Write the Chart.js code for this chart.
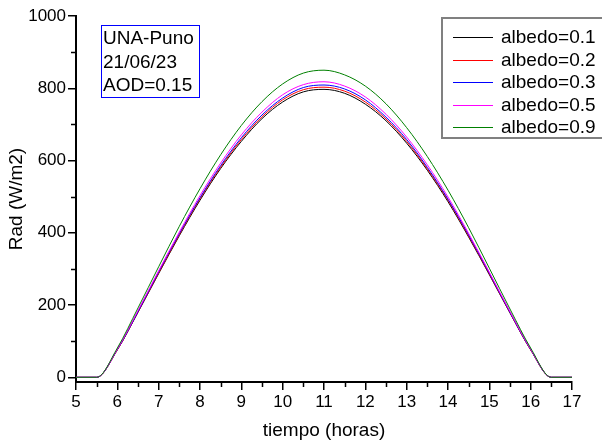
<!DOCTYPE html>
<html>
<head>
<meta charset="utf-8">
<script src="https://cdn.jsdelivr.net/npm/chart.js@4"></script>
<style>
  html, body { margin: 0; padding: 0; background: #fff; }
  #wrap { width: 602px; height: 443px; }
</style>
</head>
<body>
<div id="wrap"><canvas id="grafico"></canvas></div>
<script>
// horas del dia
const horas = [5, 5.5, 6, 6.5, 7, 7.5, 8, 8.5, 9, 9.5, 10, 10.5, 11, 11.5, 12, 12.5, 13, 13.5, 14, 14.5, 15, 15.5, 16, 16.5, 17];

// radiacion (W/m2) para cada albedo
const albedo01 = [0, 0, 76, 180, 287, 392, 490, 578, 653, 716, 762, 790, 797, 786, 756, 710, 648, 573, 486, 388, 284, 178, 76, 0, 0];
const albedo02 = [0, 0, 76, 181, 289, 395, 494, 582, 658, 721, 768, 796, 803, 792, 762, 715, 653, 577, 490, 391, 286, 179, 76, 0, 0];
const albedo03 = [0, 0, 77, 182, 292, 398, 497, 586, 663, 726, 773, 802, 809, 798, 768, 720, 658, 581, 493, 394, 288, 180, 77, 0, 0];
const albedo05 = [0, 0, 78, 185, 295, 402, 503, 593, 671, 734, 782, 810, 818, 806, 776, 728, 665, 588, 499, 398, 291, 182, 78, 0, 0];
const albedo09 = [0, 0, 81, 192, 306, 418, 522, 616, 697, 763, 812, 842, 850, 837, 806, 757, 691, 611, 518, 414, 302, 189, 81, 0, 0];

const etiquetas = ["albedo=0.1", "albedo=0.2", "albedo=0.3", "albedo=0.5", "albedo=0.9"];
const colores = ["#000000", "#ff0000", "#0000ff", "#ff00ff", "#008000"];
const series = [albedo01, albedo02, albedo03, albedo05, albedo09];

const ticksX = [5, 6, 7, 8, 9, 10, 11, 12, 13, 14, 15, 16, 17];
const ticksY = [0, 200, 400, 600, 800, 1000];
const cuadroTexto = ["UNA-Puno", "21/06/23", "AOD=0.15"];

const fuente = 'Arial, "Liberation Sans", sans-serif';

// armar datasets
const datasets = series.map((valores, i) => ({
    label: etiquetas[i],
    data: valores.map((v, j) => ({ x: horas[j], y: v })),
    borderColor: colores[i],
    borderWidth: 1,
    pointRadius: 0,
    fill: false,
    cubicInterpolationMode: "monotone",
    order: series.length - i
}));

// marcas menores, leyenda y cuadro de texto
const extras = {
    id: "extras",
    afterDraw(chart) {
        const ctx = chart.ctx;
        const sx = chart.scales.x;
        const sy = chart.scales.y;
        const area = chart.chartArea;
        ctx.save();
        ctx.strokeStyle = "#000";
        ctx.lineWidth = 1.5;
        ctx.beginPath();
        for (let h = 5.5; h < 17; h += 1) {
            const px = Math.round(sx.getPixelForValue(h)) + 0.5;
            ctx.moveTo(px, area.bottom);
            ctx.lineTo(px, area.bottom + 5);
        }
        for (let v = 100; v < 1000; v += 200) {
            const py = Math.round(sy.getPixelForValue(v)) + 0.5;
            ctx.moveTo(area.left, py);
            ctx.lineTo(area.left - 5, py);
        }
        ctx.stroke();

        // leyenda
        ctx.strokeStyle = "#808080";
        ctx.lineWidth = 2;
        ctx.strokeRect(442, 18, 162, 120);
        ctx.font = "19px " + fuente;
        ctx.textBaseline = "middle";
        ctx.textAlign = "left";
        etiquetas.forEach((txt, i) => {
            const y = 37 + i * 22.5;
            ctx.strokeStyle = colores[i];
            ctx.lineWidth = 1;
            ctx.beginPath();
            ctx.moveTo(453, Math.round(y) + 0.5);
            ctx.lineTo(493, Math.round(y) + 0.5);
            ctx.stroke();
            ctx.fillStyle = "#000";
            ctx.fillText(txt, 501, y + 1);
        });

        // cuadro UNA-Puno
        ctx.strokeStyle = "#0000ff";
        ctx.lineWidth = 1;
        ctx.strokeRect(101.5, 25.5, 98, 72);
        ctx.fillStyle = "#000";
        cuadroTexto.forEach((t, i) => {
            ctx.fillText(t, 103, 39 + i * 23.5);
        });
        ctx.restore();
    }
};

new Chart(document.getElementById("grafico"), {
    type: "line",
    data: { datasets: datasets },
    options: {
        responsive: true,
        maintainAspectRatio: false,
        animation: false,
        layout: { padding: { top: 16, right: 30, bottom: 0, left: 0 } },
        plugins: {
            legend: { display: false },
            tooltip: { enabled: false }
        },
        scales: {
            x: {
                type: "linear",
                min: 5,
                max: 17,
                afterBuildTicks: s => { s.ticks = ticksX.map(v => ({ value: v })); },
                afterFit: s => { s.height = 61; },
                grid: { drawOnChartArea: false, drawTicks: true, tickLength: 8, color: "#000", lineWidth: 1.5 },
                border: { color: "#000", width: 2 },
                ticks: { color: "#000", font: { family: fuente, size: 17 }, padding: 2, maxRotation: 0, callback: v => String(v) },
                title: { display: true, text: "tiempo (horas)", color: "#000", font: { family: fuente, size: 19 }, padding: { top: 0, bottom: 1 } }
            },
            y: {
                type: "linear",
                min: -13,
                max: 1000,
                afterBuildTicks: s => { s.ticks = ticksY.map(v => ({ value: v })); },
                afterFit: s => { s.width = 76; },
                grid: { drawOnChartArea: false, drawTicks: true, tickLength: 8, color: "#000", lineWidth: 1.5 },
                border: { color: "#000", width: 2 },
                ticks: { color: "#000", font: { family: fuente, size: 17 }, padding: 2, callback: v => String(v) },
                title: { display: true, text: "Rad (W/m2)", color: "#000", font: { family: fuente, size: 19 }, padding: { top: 5, bottom: 4 } }
            }
        }
    },
    plugins: [extras]
});
</script>
</body>
</html>
